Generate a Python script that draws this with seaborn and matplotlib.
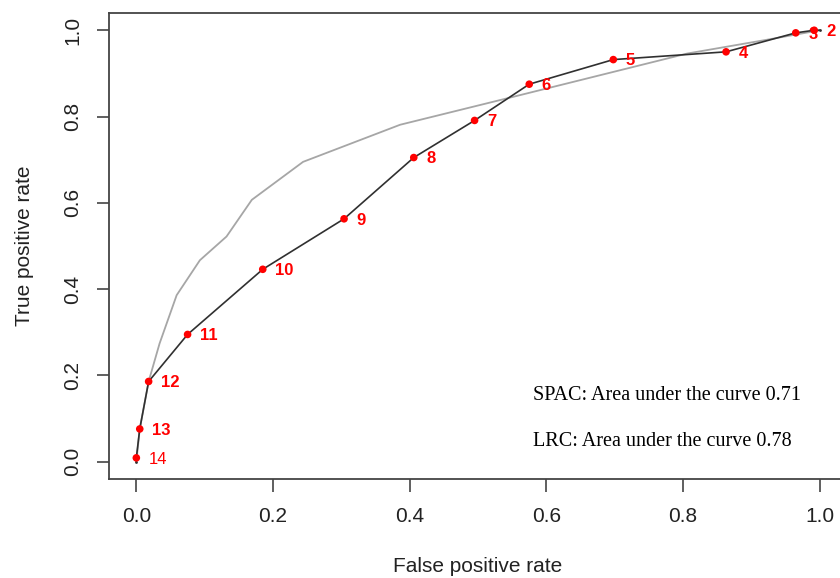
import matplotlib
matplotlib.use("Agg")
import matplotlib.pyplot as plt
import seaborn as sns
import pandas as pd

# LRC curve points (labelled thresholds)
lrc_fpr = [0.0, 0.0, 0.005, 0.018, 0.075, 0.185, 0.304, 0.406, 0.495, 0.575, 0.698, 0.863, 0.965, 0.992, 1.0]
lrc_tpr = [0.0, 0.009, 0.076, 0.186, 0.295, 0.446, 0.563, 0.705, 0.791, 0.875, 0.932, 0.950, 0.994, 1.0, 1.0]
point_labels = ["14", "13", "12", "11", "10", "9", "8", "7", "6", "5", "4", "3", "2"]
point_fpr = [0.0, 0.005, 0.018, 0.075, 0.185, 0.304, 0.406, 0.495, 0.575, 0.698, 0.863, 0.965, 0.992]
point_tpr = [0.009, 0.076, 0.186, 0.295, 0.446, 0.563, 0.705, 0.791, 0.875, 0.932, 0.950, 0.994, 1.0]

# SPAC curve
spac_fpr = [0.0, 0.005, 0.018, 0.034, 0.059, 0.093, 0.132, 0.169, 0.244, 0.386, 0.542, 0.806, 0.93, 1.0]
spac_tpr = [0.0, 0.076, 0.186, 0.274, 0.386, 0.467, 0.522, 0.607, 0.695, 0.781, 0.842, 0.946, 0.98, 1.0]

x_ticks = [0.0, 0.2, 0.4, 0.6, 0.8, 1.0]
y_ticks = [0.0, 0.2, 0.4, 0.6, 0.8, 1.0]
auc_texts = ["SPAC: Area under the curve 0.71", "LRC: Area under the curve 0.78"]

sns.set_style("white")
plt.rcParams['font.family'] = ['Liberation Sans', 'DejaVu Sans']

W, H = 840, 578
fig = plt.figure(figsize=(W / 100, H / 100), dpi=100)
left, right, top, bottom = 109, 847, 13, 479
ax = fig.add_axes([left / W, 1 - bottom / H, (right - left) / W, (bottom - top) / H])

spac = pd.DataFrame({"fpr": spac_fpr, "tpr": spac_tpr})
lrc = pd.DataFrame({"fpr": lrc_fpr, "tpr": lrc_tpr})
pts = pd.DataFrame({"fpr": point_fpr, "tpr": point_tpr, "lab": point_labels})

sns.lineplot(data=spac, x="fpr", y="tpr", sort=False, estimator=None, color="#a6a6a6", lw=1.3, ax=ax)
sns.lineplot(data=lrc, x="fpr", y="tpr", sort=False, estimator=None, color="#303030", lw=1.2,
             marker="o", markersize=2, markeredgewidth=0, ax=ax)
sns.scatterplot(data=pts, x="fpr", y="tpr", color="#ff0000", s=30, edgecolor="none", ax=ax, zorder=5)

for fx, ty, lab in zip(point_fpr, point_tpr, point_labels):
    ax.annotate(lab, (fx, ty), xytext=(9, -1), textcoords="offset points",
                color="#ff0000", fontsize=12, fontweight="normal" if lab == "14" else "bold",
                va="center", ha="left", zorder=6, annotation_clip=False)

ax.text(0.5805, 0.1535, auc_texts[0], family=["Liberation Serif", "DejaVu Serif"], fontsize=14.5,
        va="center", ha="left", color="#000000")
ax.text(0.5805, 0.0465, auc_texts[1], family=["Liberation Serif", "DejaVu Serif"], fontsize=14.5,
        va="center", ha="left", color="#000000")

ax.set_xlim(-0.04, 1.04)
ax.set_ylim(-0.04, 1.04)
ax.set_xticks(x_ticks)
ax.set_yticks(y_ticks)
ax.set_xticklabels([f"{v:.1f}" for v in x_ticks])
ax.set_yticklabels([f"{v:.1f}" for v in y_ticks], rotation=90, va="center")
ax.tick_params(axis="both", direction="out", length=9, width=1.2, color="#444444",
               labelsize=15, labelcolor="#222222", pad=11, left=True, bottom=True)
ax.tick_params(axis="y", pad=10)
for s in ax.spines.values():
    s.set_visible(True)
    s.set_color("#444444")
    s.set_linewidth(1.3)

ax.set_xlabel("")
ax.set_ylabel("")
fig.text(478 / W, 1 - 566 / H, "False positive rate", ha="center", va="center", fontsize=15, color="#222222")
fig.text(25 / W, 1 - 246 / H, "True positive rate", ha="center", va="center", rotation=90, fontsize=15, color="#222222")

fig.savefig("out.png", dpi=100)
